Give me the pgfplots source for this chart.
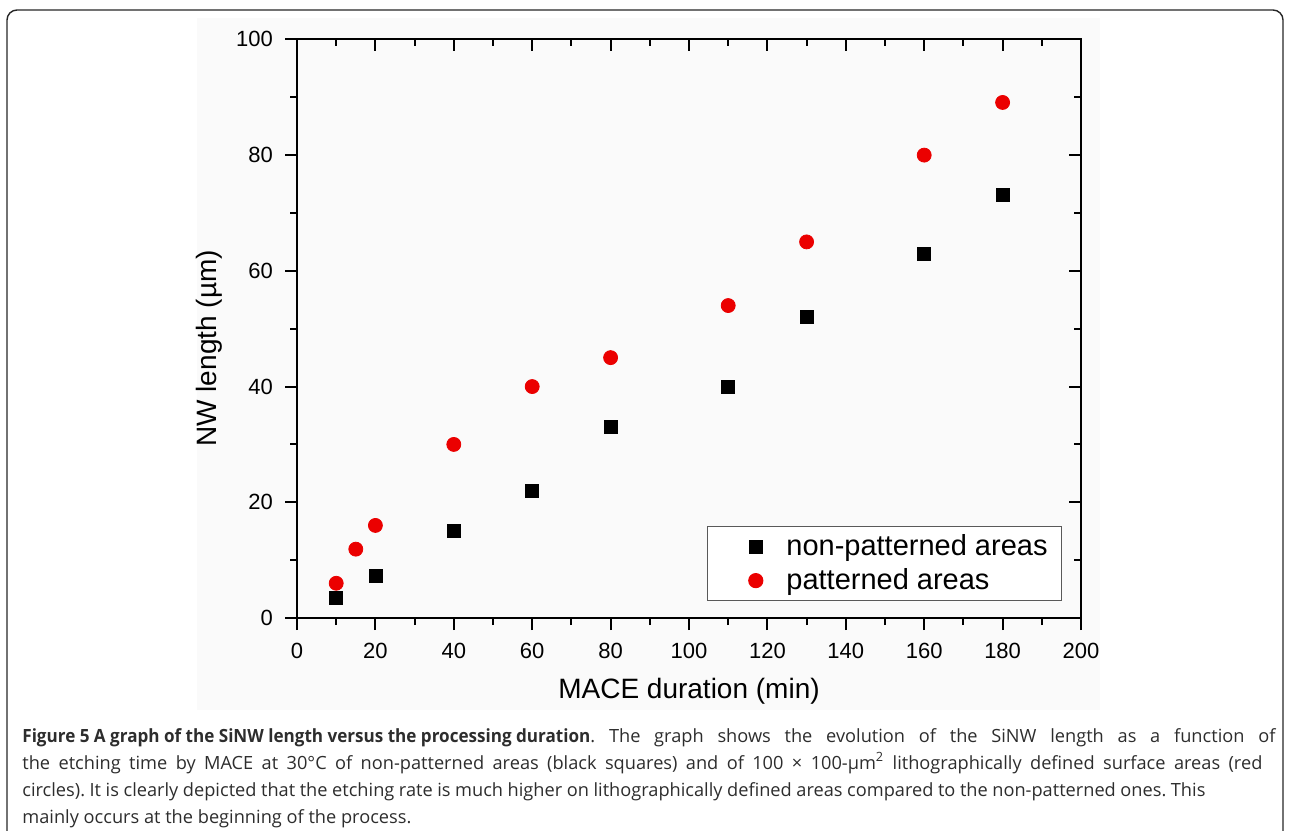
\documentclass[border=0pt]{standalone}
\usepackage{fontspec}
\setmainfont{Liberation Sans}
\newfontfamily\capfont{Open Sans}
\usepackage{graphicx}
\usepackage{pgfplots}
\pgfplotsset{compat=1.18}
\definecolor{ptred}{RGB}{235,0,0}
\definecolor{bgpanel}{RGB}{250,250,250}
\definecolor{captext}{RGB}{45,45,45}

% non-patterned (black squares)
\pgfplotstableread{
x y
10 3.5
20 7.3
40 15
60 22
80 33
110 40
130 52
160 63
180 73.1
}\nonpat
% patterned (red circles)
\pgfplotstableread{
x y
10 6
15 11.9
20 16
40 30
60 40
80 45
110 54
130 65
160 80
180 89.1
}\pat

\begin{document}
\frenchspacing
\begin{tikzpicture}
\useasboundingbox (0,0) rectangle (644.5pt,415pt);
% pixel-like frame: x=px/2, y=(830-py)/2
\begin{scope}[x=0.5pt,y=-0.5pt,yshift=415pt]
  \fill[bgpanel] (197,18) rectangle (1100,710);
  \draw[line width=0.7pt,black!85,rounded corners=5pt] (7,840) -- (7,10) -- (1283,10) -- (1283,840);
\end{scope}

\pgfplotsset{
  chartbase/.style={
    at={(148.5pt,106pt)}, anchor=south west,
    scale only axis, width=392pt, height=289.3pt,
    xmin=0, xmax=200, ymin=0, ymax=100,
    xtick={0,20,...,200}, ytick={0,20,...,100},
    minor x tick num=1, minor y tick num=1,
    major tick length=6pt, minor tick length=3.5pt,
    every tick/.style={black, line width=1pt},
    axis line style={line width=1pt},
  }
}

\begin{axis}[chartbase,
  tick align=outside,
  xtick pos=left, ytick pos=left,
  /pgf/number format/assume math mode=true,
  xticklabel style={font=\fontsize{11}{13}\selectfont, yshift=-3pt},
  yticklabel style={font=\fontsize{11}{13}\selectfont, xshift=-2.5pt},
  xlabel={MACE duration (min)},
  ylabel={NW length (µm)},
  every axis x label/.style={at={(rel axis cs:0.5,-0.127)}, anchor=center,
    font=\fontsize{14}{16}\selectfont},
  every axis y label/.style={at={(rel axis cs:-0.112,0.466)}, anchor=center, rotate=90,
    font=\fontsize{14}{16}\selectfont},
  legend image code/.code={%
    \path (-19pt,0pt) (13pt,0pt);
    \path[#1] plot coordinates {(0pt,0pt)};},
  legend style={at={(rel axis cs:0.976,0.159)}, anchor=north east,
    draw=black!65, line width=0.6pt,
    font=\fontsize{14.5}{16}\selectfont,
    inner xsep=5pt, inner ysep=2pt, row sep=1pt},
  legend cell align=left,
]
\addplot[only marks, mark=square*, mark size=3.25pt, black] table[x=x,y=y] {\nonpat};
\addplot[only marks, mark=*, mark size=3.5pt, ptred, draw=ptred] table[x=x,y=y] {\pat};
\legend{non-patterned areas, patterned areas}
\end{axis}

\begin{axis}[chartbase,
  tick align=inside,
  xtick pos=right, ytick pos=right,
  xticklabels={}, yticklabels={},
]
\end{axis}

\begin{scope}[x=0.5pt,y=-0.5pt,yshift=415pt]
  \begin{scope}[every node/.style={anchor=base west, inner sep=0pt, text=captext,
      font=\capfont\fontsize{9.1}{11}\selectfont}]
  \node at (22,742) {\makebox[626.5pt][s]{\resizebox{284pt}{\height}{\textbf{Figure 5 A graph of the SiNW length versus the processing duration}}. The graph shows the evolution of the SiNW length as a function of}};
  \node at (22,769) {\makebox[620pt][s]{the etching time by MACE at 30°C of non-patterned areas (black squares) and of 100 × 100-µm\textsuperscript{2} lithographically defined surface areas (red}};
  \node at (22,796) {\makebox[591.5pt][s]{circles). It is clearly depicted that the etching rate is much higher on lithographically defined areas compared to the non-patterned ones. This}};
  \node at (22,823) {mainly occurs at the beginning of the process.};
  \end{scope}
\end{scope}
\end{tikzpicture}
\end{document}
